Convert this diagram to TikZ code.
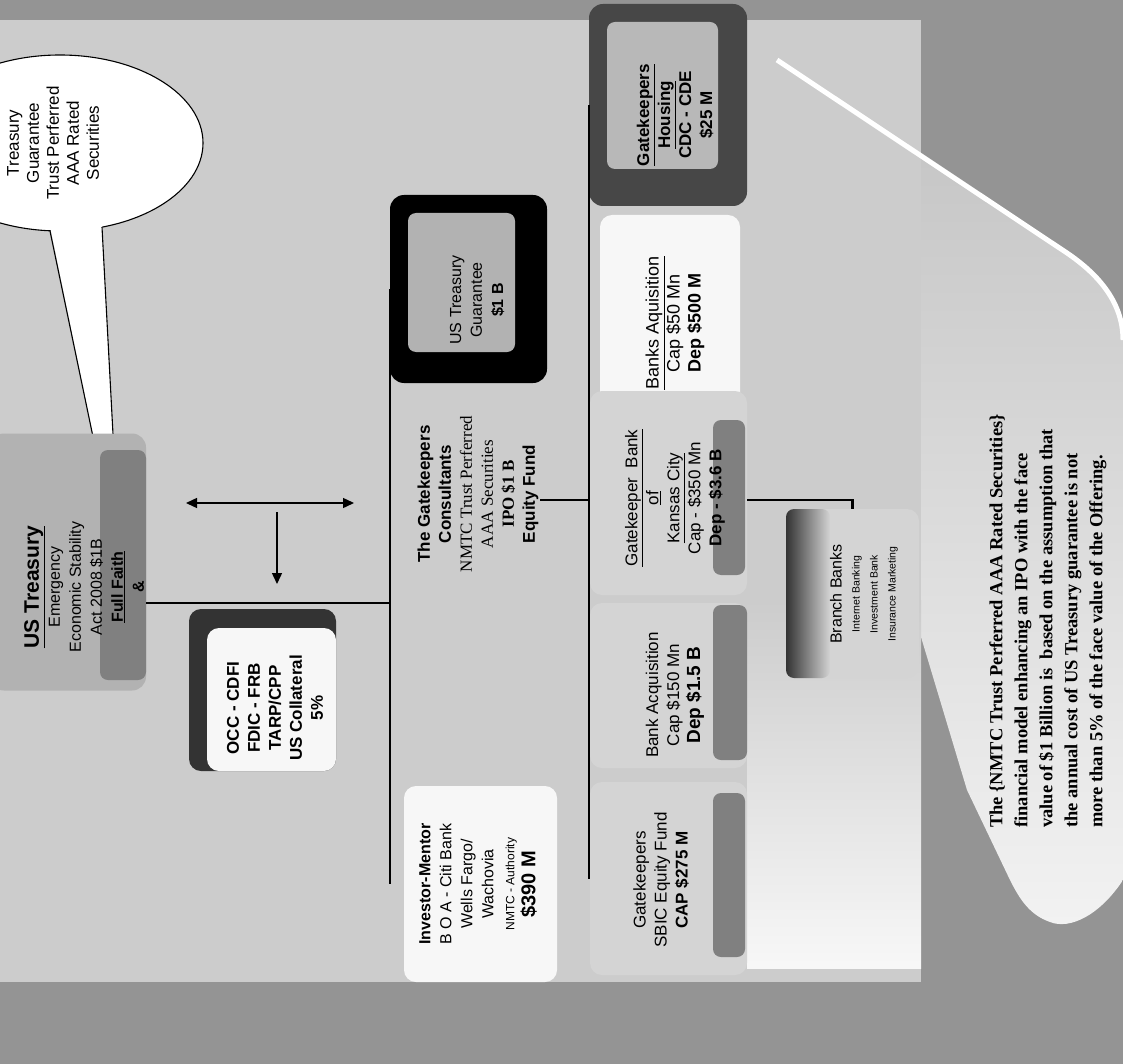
\documentclass[tikz,border=0pt]{standalone}
\usepackage{fontspec}
\setmainfont{Liberation Sans}
\newfontfamily\tnr{Liberation Serif}
\usetikzlibrary{arrows.meta,shapes.geometric}
\newcommand{\fs}[1]{\fontsize{#1}{21}\selectfont}

\begin{document}
\begin{tikzpicture}[x=1pt,y=-1pt,
    every node/.append style={inner sep=0pt},
    lbl/.style={rotate=90,align=center,font=\fs{16}},
    conn/.style={line width=2.6pt},
    arr/.style={line width=1.4pt,-{Triangle[length=11pt,width=10pt]}},
    darr/.style={line width=1.4pt,{Triangle[length=11pt,width=10pt]}-{Triangle[length=11pt,width=10pt]}},
    lightbox/.style={rounded corners=12pt,fill=black!17},
    whitebox/.style={rounded corners=12pt,fill=black!3},
    band/.style={rounded corners=8pt,fill=black!50}]
% page and background
\useasboundingbox (0,0) rectangle (1123,1064);
\clip (0,0) rectangle (1123,1064);
\fill[black!42] (0,0) rectangle (1123,1064);
\fill[black!20] (0,20) rectangle (921,982);
\shade[top color=black!22,bottom color=black!5] (921,157) -- (1067,253) .. controls (1095,272) and (1123,300) .. (1123,340) -- (1123,880) .. controls (1100,915) and (1070,930) .. (1050,922) .. controls (1030,915) and (1020,900) .. (1010,880) -- (967,790) -- (921,637) -- cycle;
\draw[white,line width=5pt] (777,60) -- (1067,253) .. controls (1095,272) and (1123,300) .. (1123,340);
\shade[top color=black!20,bottom color=black!3] (747,600) rectangle (921,968);

% callout
\node[draw,ellipse,fill=white,line width=1.1pt,minimum width=286pt,minimum height=176pt] (bub) at (60,143) {};
\fill[white] (50,226) -- (120,566) -- (102,222) -- cycle;
\draw[line width=1.1pt] (50,231) -- (120,566) -- (102,227);
\node[lbl,font=\fontsize{17}{20}\selectfont] (bubt) at (53,143) {Treasury\\Guarantee\\Trust Perferred\\AAA Rated\\Securities};

% boxes
\node[rounded corners=14pt,fill=black!30,minimum width=156pt,minimum height=257pt] (treas) at (68,562) {};
\fill[band] (100,450) rectangle (146,680);
\node[rounded corners=14pt,fill=black,minimum width=157pt,minimum height=188pt] (guar) at (468.5,289) {};
\fill[rounded corners=8pt,black!30] (408,213) rectangle (515,352);
\node[rounded corners=14pt,fill=black!72,minimum width=158pt,minimum height=202pt] (hous) at (668,105) {};
\fill[rounded corners=8pt,black!28] (607,22) rectangle (718,169);
\node[whitebox,minimum width=140pt,minimum height=190pt] (baq) at (670,310) {};
\node[lightbox,minimum width=157pt,minimum height=204pt] (kc) at (668.5,493) {};
\fill[band] (713,420) rectangle (745,575);
\node[lightbox,minimum width=157pt,minimum height=165pt] (bacq) at (668.5,685.5) {};
\fill[band] (713,605) rectangle (747,760);
\node[lightbox,minimum width=157pt,minimum height=193pt] (sbic) at (668.5,878.5) {};
\fill[band] (713,793) rectangle (745,957);
\node[lightbox,minimum width=133pt,minimum height=169pt] (branch) at (852.5,593.5) {};
\shade[rounded corners=8pt,left color=black!80,right color=black!17] (786,509) rectangle (830,678);
\fill[rounded corners=12pt,black!80] (189,609) rectangle (336,771);
\node[whitebox,minimum width=129pt,minimum height=143pt] (occ) at (271.5,699.5) {};
\node[whitebox,minimum width=153pt,minimum height=196pt] (inv) at (480.5,884) {};
\node[minimum width=122pt,minimum height=157pt] (cons) at (479,494.5) {};

% texts
\node[lbl] (treast) at (84,587) {\fs{21}\textbf{\underline{US Treasury}}\\Emergency\\Economic Stability\\Act 2008 \$1B\\\textbf{\underline{Full Faith}}\\\textbf{\&}};
\node[lbl] (guart) at (477,300) {US Treasury\\Guarantee\\\textbf{\$1 B}};
\node[lbl,font=\fs{17}\bfseries] (houst) at (675,115) {\underline{Gatekeepers}\\\underline{Housing}\\CDC - CDE\\\$25 M};
\node[lbl,font=\fs{18}] (baqt) at (675,323) {\underline{Banks Aquisition}\\Cap \$50 Mn\\\textbf{Dep \$500 M}};
\node[lbl,font=\fs{17}] (kct) at (675,498) {\underline{Gatekeeper~~Bank}\\\underline{of}\\\underline{Kansas City}\\Cap - \$350 Mn\\\textbf{Dep - \$3.6 B}};
\node[lbl,font=\fs{17}] (bacqt) at (675,695) {Bank Acquisition\\Cap \$150 Mn\\\textbf{\fs{19}Dep \$1.5 B}};
\node[lbl,font=\fs{17}] (sbict) at (661,880) {Gatekeepers\\SBIC Equity Fund\\\textbf{CAP \$275 M}};
\node[lbl,font=\fontsize{10.5}{18}\selectfont] (brt) at (864,594) {\fontsize{16}{18}\selectfont Branch Banks\\Internet Banking\\Investment Bank\\Insurance Marketing};
\node[lbl,font=\fs{17}] (const) at (478,494) {\textbf{The Gatekeepers}\\\textbf{Consultants}\\{\tnr NMTC Trust Perferred}\\{\tnr AAA Securities}\\{\tnr\bfseries IPO \$1 B}\\\textbf{Equity Fund}};
\node[lbl,font=\fs{17}\bfseries] (occt) at (275,708) {OCC - CDFI\\FDIC - FRB\\TARP/CPP\\US Collateral\\5\%};
\node[lbl] (invt) at (478,884) {\textbf{Investor-Mentor}\\B O A - Citi Bank\\Wells Fargo/\\Wachovia\\\fs{12}NMTC - Authority\\\fs{20}\textbf{\$390 M}};
\node[rotate=90,anchor=west,align=left,font=\tnr\bfseries\fontsize{18.5}{25}\selectfont] (nmtc) at (1048,828) {The \{NMTC Trust Perferred AAA Rated Securities\}\\financial model enhancing an IPO with the face\\value of \$1 Billion is~ based on the assumption that\\the annual cost of US Treasury guarantee is not\\more than 5\% of the face value of the Offering.};

% connectors
\coordinate (tj) at (146,603);
\coordinate (cj) at (560,500);
\draw[conn] (guar.west) -- (guar.west |- inv.west);
\draw[conn] (hous.west) -- (hous.west |- sbic.west);
\draw[conn] (treas.east |- tj) -- (tj -| guar.west);
\draw[conn] (cons.east |- cj) -- (cj -| hous.west);
\draw[conn] (kc.east |- cj) -| (branch.north);
\coordinate (a1) at (277,512);
\coordinate (a2) at (277,584);
\draw[arr] (a1) -- (a2);
\coordinate (d1) at (186,503);
\coordinate (d2) at (354,503);
\draw[darr] (d1) -- (d2);
\end{tikzpicture}
\end{document}
